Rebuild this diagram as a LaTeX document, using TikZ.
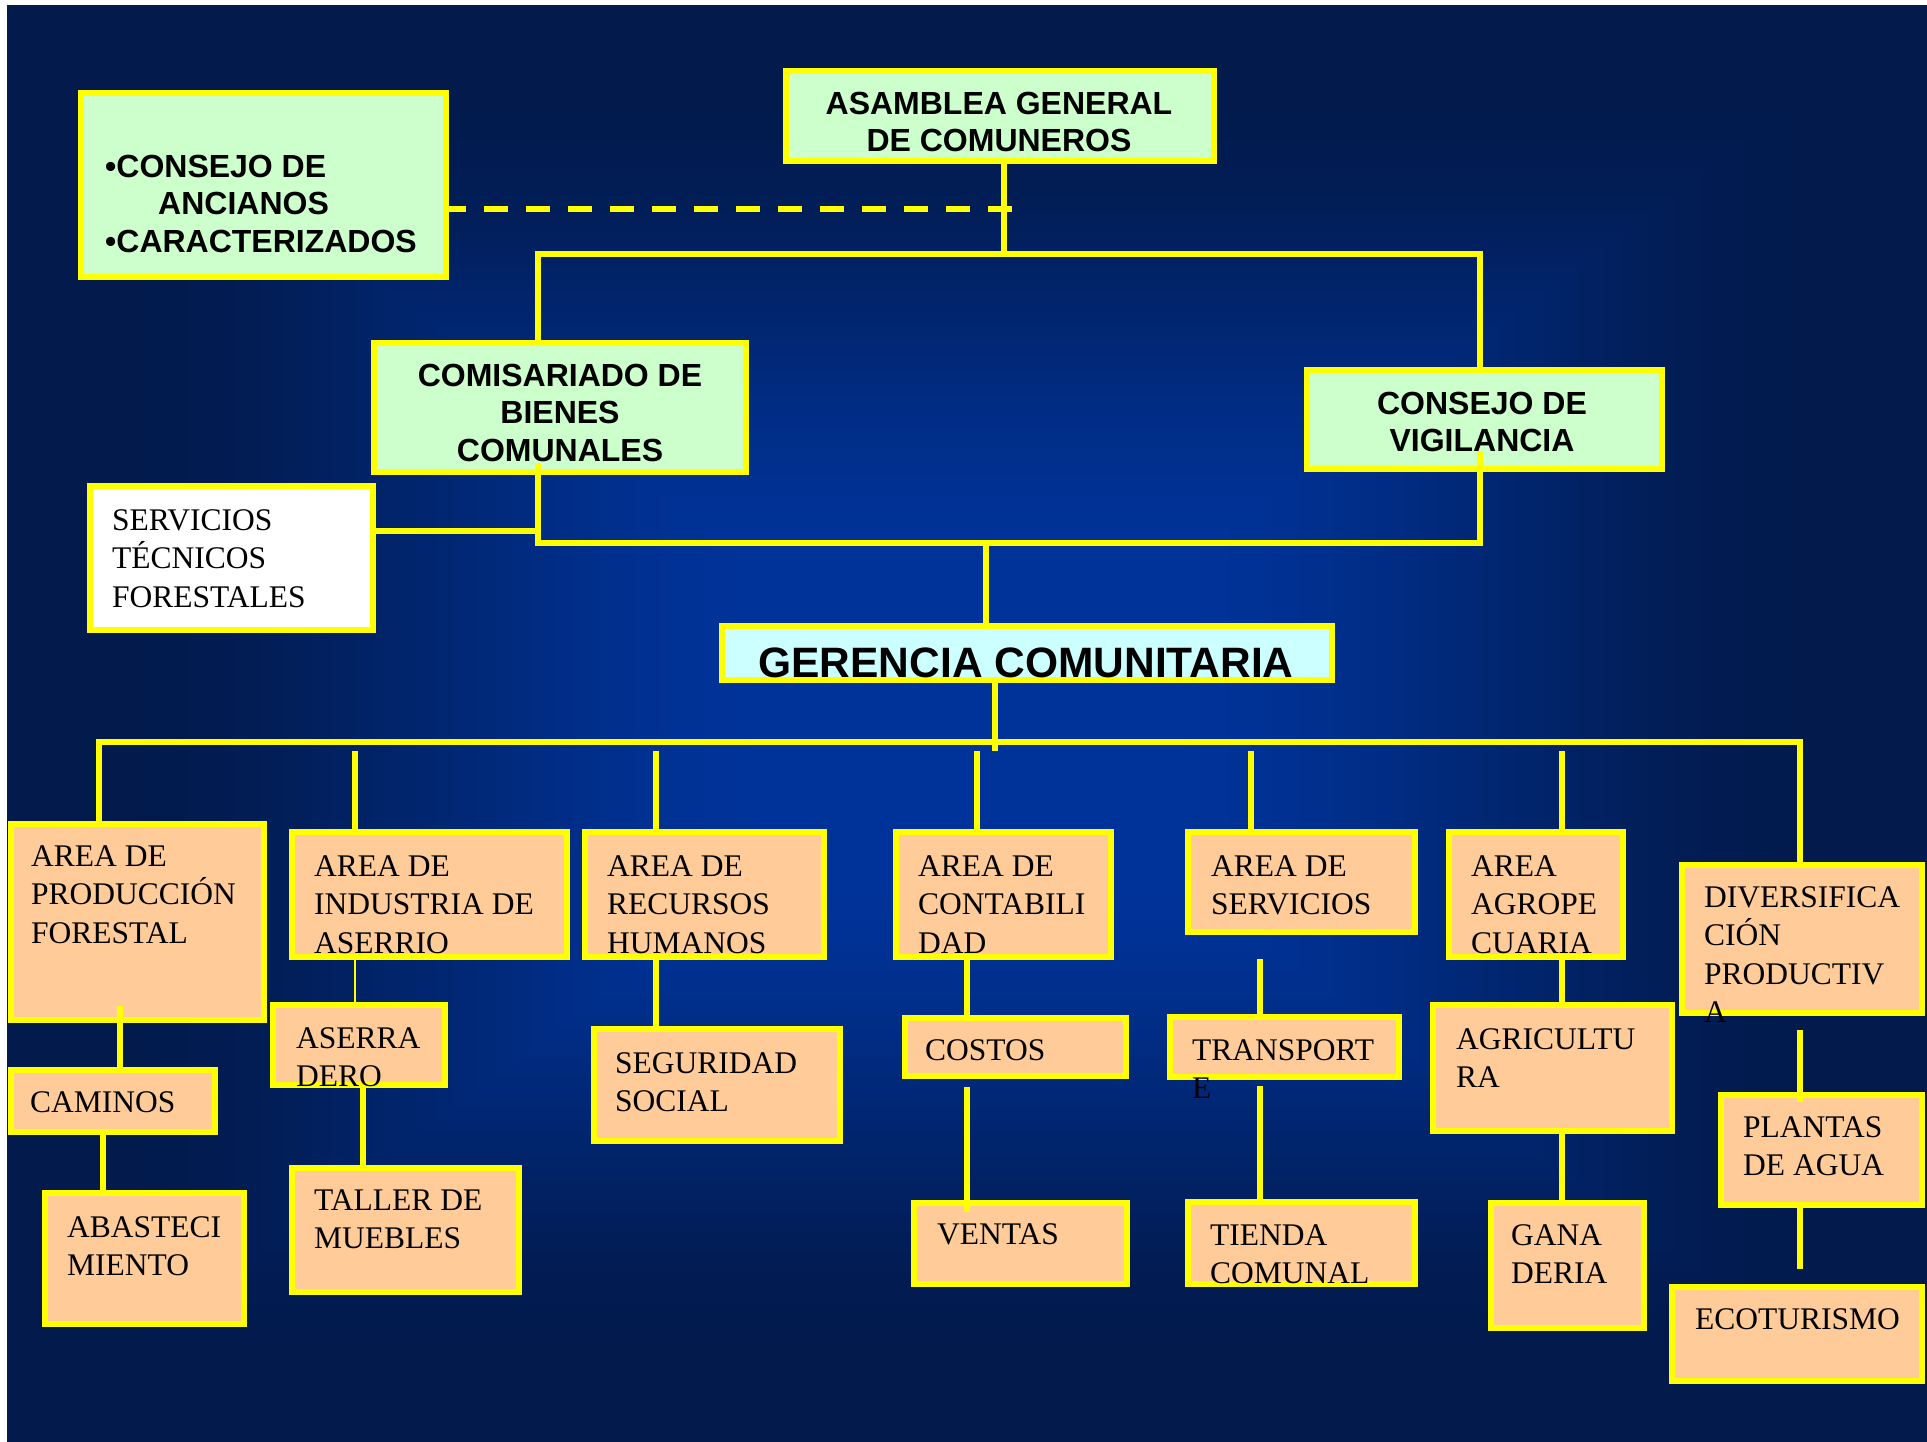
\documentclass[tikz,border=0pt]{standalone}
\usepackage{fontspec}
\setmainfont{Liberation Serif}
\setsansfont{Liberation Sans}
\definecolor{yel}{HTML}{FFFF00}
\definecolor{grn}{HTML}{CCFFCC}
\definecolor{cyn}{HTML}{CCFFFF}
\definecolor{org}{HTML}{FFCC99}
\definecolor{bgO}{HTML}{021A4C}
\definecolor{bgC}{HTML}{003399}
\newcommand\ml[1]{\begin{tabular}[t]{@{}l@{}}#1\end{tabular}}
\newcommand\mc[1]{\begin{tabular}[t]{@{}c@{}}#1\end{tabular}}
\begin{document}
\begin{tikzpicture}[x=1pt,y=-1pt,
  bx/.style n args={4}{minimum width={#3-#1-6}, minimum height={#4-#2-6}, at={({(#1+#3)/2},{(#2+#4)/2})}},
  box/.style={draw=yel, line width=6pt, inner sep=0pt, outer sep=3pt, rectangle},
  gbox/.style={box, fill=grn},
  cbox/.style={box, fill=cyn},
  obox/.style={box, fill=org},
  wbox/.style={box, fill=white},
  conn/.style={draw=yel, line width=6pt},
  thinconn/.style={draw=yel, line width=2pt},
  bs/.style={font=\fontsize{32}{37.5}\selectfont\sffamily\bfseries, inner sep=0pt, text=black},
  big/.style={font=\fontsize{42.5}{48}\selectfont\sffamily\bfseries, inner sep=0pt, text=black},
  sr/.style={font=\fontsize{31.5}{38.5}\selectfont\rmfamily, inner sep=0pt, text=black}]
\useasboundingbox (0,0) rectangle (1927,1441);
% background
\fill[white] (0,0) rectangle (1927,1441);
\fill[bgO] (7,5) rectangle (1935,1450);
\foreach \i in {1,...,109}{
  \pgfmathsetmacro\d{1-\i/110}
  \pgfmathsetmacro\s{min(1,max(0,(\d-0.2)/0.7))}
  \pgfmathsetmacro\p{100*(1-(3*\s*\s-2*\s*\s*\s))}
  \fill[bgC!\p!bgO] ({967-960*\d},{723-718*\d}) rectangle ({967+960*\d},{723+718*\d});
}
% boxes
\node[gbox, bx={78}{90}{449}{280}] (cons) {};
\node[gbox, bx={783}{68}{1217}{164}] (asam) {};
\node[gbox, bx={371}{340}{749}{475}] (comi) {};
\node[gbox, bx={1304}{367}{1665}{472}] (vig) {};
\node[wbox, bx={87}{483}{376}{633}] (serv) {};
\node[cbox, bx={719}{623}{1335}{683}] (ger) {};
\node[obox, bx={8}{821}{267}{1023}] (prod) {};
\node[obox, bx={8}{1067}{218}{1135}] (cam) {};
\node[obox, bx={42}{1190}{247}{1327}] (abas) {};
\node[obox, bx={289}{829}{570}{960}] (ind) {};
\node[obox, bx={270}{1002}{448}{1088}] (aser) {};
\node[obox, bx={289}{1165}{522}{1295}] (tall) {};
\node[obox, bx={582}{829}{827}{960}] (rrhh) {};
\node[obox, bx={591}{1026}{843}{1144}] (seg) {};
\node[obox, bx={893}{829}{1114}{960}] (cont) {};
\node[obox, bx={902}{1015}{1129}{1079}] (cost) {};
\node[obox, bx={911}{1200}{1130}{1287}] (vent) {};
\node[obox, bx={1185}{829}{1418}{935}] (srv) {};
\node[obox, bx={1167}{1014}{1402}{1080}] (trans) {};
\node[obox, bx={1185}{1199}{1418}{1287}] (tien) {};
\node[obox, bx={1446}{829}{1626}{960}] (agro) {};
\node[obox, bx={1430}{1002}{1675}{1134}] (agri) {};
\node[obox, bx={1488}{1200}{1647}{1331}] (gana) {};
\node[obox, bx={1679}{862}{1925}{1016}] (div) {};
\node[obox, bx={1718}{1092}{1925}{1208}] (plan) {};
\node[obox, bx={1669}{1284}{1925}{1384}] (eco) {};
% connectors
\coordinate (jA) at (1004,254);
\coordinate (jL) at (538,254);
\coordinate (jR) at (1480,254);
\draw[conn] (asam.south -| jA) -- (jA);
\draw[conn] (comi.north -| jL) -- (jL) -- (jR) -- (vig.north -| jR);
\coordinate (dEnd) at (1012,209);
\draw[conn, dash pattern=on 24pt off 18pt, dash phase=7pt] (cons.east |- dEnd) -- (dEnd);
\coordinate (bL) at (538,543);
\coordinate (bR) at (1480,543);
\draw[conn] (538,463) -- (bL) -- (bR) -- (1480,451);
\coordinate (sJ) at (538,531);
\draw[conn] (serv.east |- sJ) -- (sJ);
\coordinate (gU) at (986,543);
\draw[conn] (gU) -- (ger.north -| gU);
\coordinate (gD) at (995,751);
\draw[conn] (ger.south -| gD) -- (gD);
\coordinate (hL) at (99,742);
\coordinate (hR) at (1800,742);
\draw[conn] (prod.north -| hL) -- (hL) -- (hR) -- (div.north -| hR);
\foreach \n/\xx in {ind/355, rrhh/656, cont/977, srv/1251, agro/1562}{
  \coordinate (d\n) at (\xx,751);
  \draw[conn] (d\n) -- (\n.north -| d\n);
}
\draw[conn] (120,1006) -- (cam.north -| 120,0);
\coordinate (c1) at (103,1135);
\draw[conn] (c1) -- (abas.north -| c1);
\coordinate (c2) at (355,960);
\draw[thinconn] (c2) -- (aser.north -| c2);
\coordinate (c3) at (363,1088);
\draw[conn] (c3) -- (tall.north -| c3);
\coordinate (c4) at (656,960);
\draw[conn] (c4) -- (seg.north -| c4);
\coordinate (c5) at (967,960);
\draw[conn] (c5) -- (cost.north -| c5);
\coordinate (c6) at (967,1087);
\draw[conn] (c6) -- (967,1212);
\coordinate (c7) at (1260,959);
\draw[conn] (c7) -- (trans.north -| c7);
\coordinate (c8) at (1260,1086);
\draw[conn] (c8) -- (tien.north -| c8);
\coordinate (c9) at (1562,960);
\draw[conn] (c9) -- (agri.north -| c9);
\coordinate (c10) at (1562,1134);
\draw[conn] (c10) -- (gana.north -| c10);
\coordinate (c11) at (1800,1030);
\draw[conn] (c11) -- (1800,1102);
\coordinate (c12) at (1800,1208);
\draw[conn] (c12) -- (1800,1269);
% texts
\node[bs, anchor=base west] (tcons) at (105,177) {\ml{•CONSEJO DE\\\hspace*{53pt}ANCIANOS\\•CARACTERIZADOS}};
\node[bs, anchor=base] (tasam) at (999,114) {\mc{ASAMBLEA GENERAL\\DE COMUNEROS}};
\node[bs, anchor=base] (tcomi) at (560,386) {\mc{COMISARIADO DE\\BIENES\\COMUNALES}};
\node[bs, anchor=base] (tvig) at (1482,414) {\mc{CONSEJO DE\\VIGILANCIA}};
\node[big, anchor=base] (tger) at (1026,677) {GERENCIA COMUNITARIA};
\node[sr, anchor=base west] (tserv) at (112,530) {\ml{SERVICIOS\\TÉCNICOS\\FORESTALES}};
\node[sr, anchor=base west] (tprod) at (31,866) {\ml{AREA DE\\PRODUCCIÓN\\FORESTAL}};
\node[sr, anchor=base west] (tcam) at (30,1112) {CAMINOS};
\node[sr, anchor=base west] (tabas) at (67,1237) {\ml{ABASTECI\\MIENTO}};
\node[sr, anchor=base west] (tind) at (314,876) {\ml{AREA DE\\INDUSTRIA DE\\ASERRIO}};
\node[sr, anchor=base west] (taser) at (296,1048) {\ml{ASERRA\\DERO}};
\node[sr, anchor=base west] (ttall) at (314,1210) {\ml{TALLER DE\\MUEBLES}};
\node[sr, anchor=base west] (trrhh) at (607,876) {\ml{AREA DE\\RECURSOS\\HUMANOS}};
\node[sr, anchor=base west] (tseg) at (615,1073) {\ml{SEGURIDAD\\SOCIAL}};
\node[sr, anchor=base west] (tcont) at (918,876) {\ml{AREA DE\\CONTABILI\\DAD}};
\node[sr, anchor=base west] (tcost) at (925,1060) {COSTOS};
\node[sr, anchor=base west] (tvent) at (937,1244) {VENTAS};
\node[sr, anchor=base west] (tsrv) at (1211,876) {\ml{AREA DE\\SERVICIOS}};
\node[sr, anchor=base west] (ttrans) at (1192,1060) {\ml{TRANSPORT\\E}};
\node[sr, anchor=base west] (ttien) at (1210,1245) {\ml{TIENDA\\COMUNAL}};
\node[sr, anchor=base west] (tagro) at (1471,876) {\ml{AREA\\AGROPE\\CUARIA}};
\node[sr, anchor=base west] (tagri) at (1456,1049) {\ml{AGRICULTU\\RA}};
\node[sr, anchor=base west] (tgana) at (1511,1245) {\ml{GANA\\DERIA}};
\node[sr, anchor=base west] (tdiv) at (1704,907) {\ml{DIVERSIFICA\\CIÓN\\PRODUCTIV\\A}};
\node[sr, anchor=base west] (tplan) at (1743,1137) {\ml{PLANTAS\\DE AGUA}};
\node[sr, anchor=base west] (teco) at (1695,1329) {ECOTURISMO};
\end{tikzpicture}
\end{document}
